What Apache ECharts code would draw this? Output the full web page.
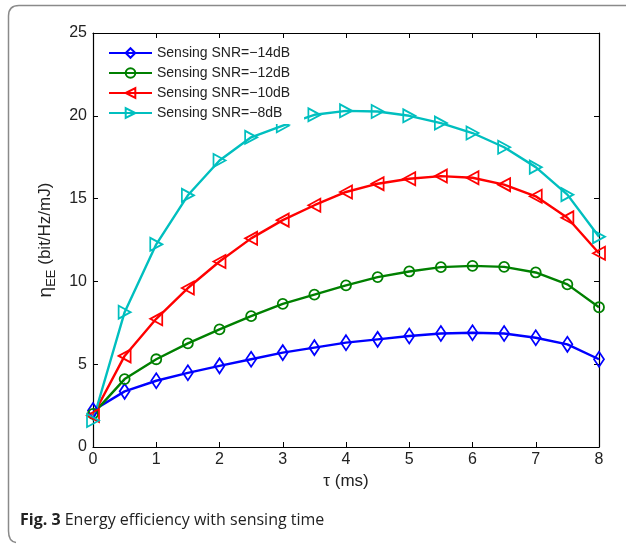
<!DOCTYPE html>
<html>
<head>
<meta charset="utf-8">
<script src="https://cdn.jsdelivr.net/npm/echarts@6/dist/echarts.min.js"></script>
<style>
  html, body { margin: 0; padding: 0; background: #fff; }
  #main { width: 626px; height: 545px; }
</style>
</head>
<body>
<div id="main"></div>
<script>
// sensing time tau (ms)
var tau = [0, 0.5, 1, 1.5, 2, 2.5, 3, 3.5, 4, 4.5, 5, 5.5, 6, 6.5, 7, 7.5, 8];

// energy efficiency values
var snr14 = [2.2, 3.36, 4.0, 4.48, 4.9, 5.3, 5.7, 6.0, 6.3, 6.5, 6.7, 6.85, 6.9, 6.85, 6.6, 6.2, 5.3];
var snr12 = [2.0, 4.1, 5.3, 6.26, 7.1, 7.9, 8.64, 9.2, 9.76, 10.26, 10.6, 10.86, 10.94, 10.88, 10.54, 9.82, 8.44];
var snr10 = [1.9, 5.5, 7.74, 9.6, 11.2, 12.6, 13.7, 14.6, 15.4, 15.9, 16.2, 16.36, 16.26, 15.84, 15.14, 13.84, 11.7];
var snr8 = [1.6, 8.14, 12.24, 15.2, 17.3, 18.7, 19.4, 20.06, 20.3, 20.26, 20.0, 19.56, 18.96, 18.1, 16.9, 15.24, 12.7];

var names = ['Sensing SNR=\u221214dB', 'Sensing SNR=\u221212dB', 'Sensing SNR=\u221210dB', 'Sensing SNR=\u22128dB'];

function pairs(vals) {
  return tau.map(function (t, i) { return [t, vals[i]]; });
}

function mkSeries(name, vals, color, symbol, size, rot) {
  return {
    name: name,
    type: 'line',
    data: pairs(vals),
    symbol: symbol,
    symbolSize: size,
    symbolRotate: rot,
    showAllSymbol: true,
    lineStyle: { color: color, width: 2.4 },
    itemStyle: { color: 'rgba(255,255,255,0)', borderColor: color, borderWidth: 1.8 },
    emphasis: { disabled: true },
    animation: false
  };
}

// every axis gets its own tick/line objects, ticks pointing into the plot
function ticks() {
  return { show: true, inside: true, length: 5, lineStyle: { color: '#000', width: 1 } };
}
function axLine() {
  return { show: true, onZero: false, lineStyle: { color: '#000', width: 1.2 } };
}

var chart = echarts.init(document.getElementById('main'));
var frame = { stroke: '#8a8a8a', lineWidth: 1.5, fill: null };

var option = {
  animation: false,
  grid: { left: 93, top: 33, width: 506, height: 414 },
  legend: {
    left: 104,
    top: 44,
    orient: 'vertical',
    itemWidth: 43,
    itemHeight: 12,
    itemGap: 6,
    padding: [2, 14, 4, 4],
    backgroundColor: '#fff',
    textStyle: { fontFamily: 'Liberation Sans', fontSize: 14, color: '#222' },
    data: names
  },
  xAxis: [{
    type: 'value', min: 0, max: 8, interval: 1,
    name: '\u03c4 (ms)', nameLocation: 'middle', nameGap: 25,
    nameTextStyle: { fontFamily: 'Liberation Sans', fontSize: 17, color: '#222' },
    axisLine: axLine(), axisTick: ticks(), splitLine: { show: false },
    axisLabel: { fontFamily: 'Liberation Sans', fontSize: 16, color: '#222', margin: 5 }
  }, {
    type: 'value', min: 0, max: 8, interval: 1, position: 'top',
    axisLine: axLine(), axisTick: ticks(), splitLine: { show: false },
    axisLabel: { show: false }
  }],
  yAxis: [{
    type: 'value', min: 0, max: 25, interval: 5,
    name: '{e|\u03b7}{s|EE}{t| (bit/Hz/mJ)}', nameLocation: 'middle', nameGap: 34,
    nameTextStyle: {
      fontFamily: 'Liberation Sans', fontSize: 17, color: '#222',
      rich: {
        e: { fontFamily: 'Liberation Sans', fontSize: 19, lineHeight: 26, color: '#222' },
        s: { fontFamily: 'Liberation Sans', fontSize: 13, lineHeight: 13, verticalAlign: 'bottom', color: '#222' },
        t: { fontFamily: 'Liberation Sans', fontSize: 17, lineHeight: 26, color: '#222' }
      }
    },
    axisLine: axLine(), axisTick: ticks(), splitLine: { show: false },
    axisLabel: { fontFamily: 'Liberation Sans', fontSize: 16, color: '#222', margin: 6 }
  }, {
    type: 'value', min: 0, max: 25, interval: 5, position: 'right',
    axisLine: axLine(), axisTick: ticks(), splitLine: { show: false },
    axisLabel: { show: false }
  }],
  series: [
    mkSeries(names[0], snr14, '#0000ff', 'diamond', [10, 15], 0),
    mkSeries(names[1], snr12, '#008000', 'circle', 10, 0),
    mkSeries(names[2], snr10, '#ff0000', 'triangle', [13, 12], 90),
    mkSeries(names[3], snr8, '#00bfbf', 'triangle', [13, 12], -90)
  ],
  graphic: [{
    type: 'polyline', silent: true,
    shape: { points: [[640, 5.5], [19, 5.5]] }, style: frame
  }, {
    type: 'bezierCurve', silent: true,
    shape: { x1: 19, y1: 5.5, cpx1: 8.5, cpy1: 5.5, x2: 8.5, y2: 16 }, style: frame
  }, {
    type: 'polyline', silent: true,
    shape: { points: [[8.5, 16], [8.5, 531]] }, style: frame
  }, {
    type: 'bezierCurve', silent: true,
    shape: { x1: 8.5, y1: 531, cpx1: 8.5, cpy1: 541.5, x2: 16, y2: 542.5 }, style: frame
  }, {
    type: 'text',
    left: 20,
    top: 512,
    style: {
      text: '{b|Fig. 3} Energy efficiency with sensing time',
      fontFamily: 'Open Sans', fontSize: 16, fill: '#222',
      rich: {
        b: { fontFamily: 'Open Sans', fontWeight: 'bold', fontSize: 16, fill: '#222' }
      }
    }
  }]
};

chart.setOption(option);
</script>
</body>
</html>
